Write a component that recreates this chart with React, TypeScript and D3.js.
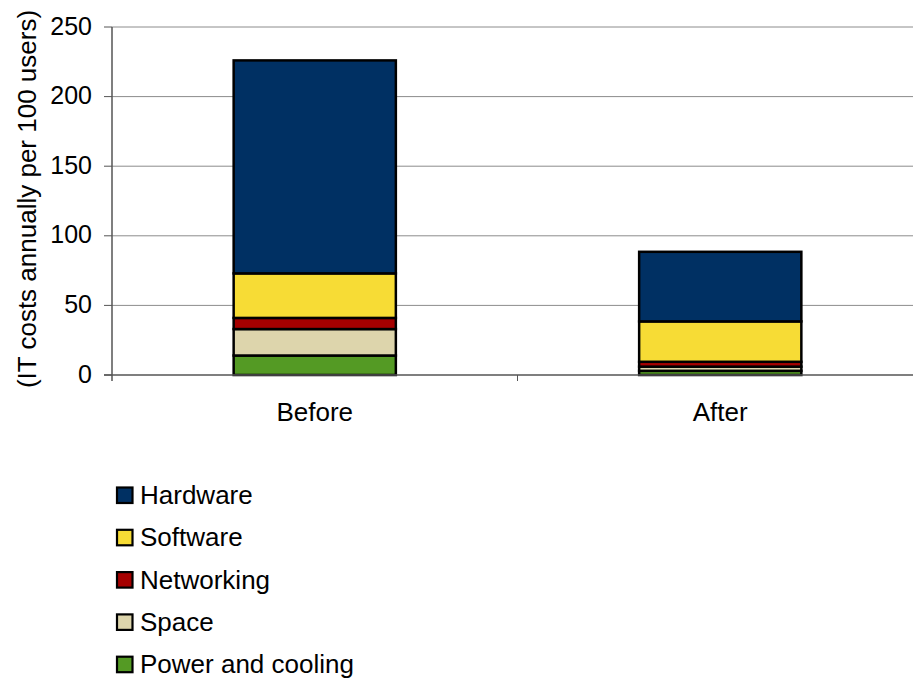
import React from "react";
import * as d3 from "d3";

const categories = ["Before", "After"];
const seriesNames = ["Power and cooling", "Space", "Networking", "Software", "Hardware"];
const powerCooling = [14, 3];
const space = [19, 3];
const networking = [8, 3.5];
const software = [32, 29];
const hardware = [153, 50];
const yTicks = [0, 50, 100, 150, 200, 250];
const legendOrder = ["Hardware", "Software", "Networking", "Space", "Power and cooling"];

const colors: Record<string, string> = {
  Hardware: "#003063",
  Software: "#F7DC35",
  Networking: "#A50000",
  Space: "#DDD5AC",
  "Power and cooling": "#549A24",
};

const W = 913;
const H = 679;
const left = 112;
const right = 923;
const top = 27;
const bottom = 375;
const font = "Liberation Sans, Arial, sans-serif";

export default function App() {
  const rows = categories.map((c, i) => ({
    category: c,
    "Power and cooling": powerCooling[i],
    Space: space[i],
    Networking: networking[i],
    Software: software[i],
    Hardware: hardware[i],
  }));
  const stacked = d3.stack<any>().keys(seriesNames)(rows);

  const x = d3.scaleBand().domain(categories).range([left, right]).paddingInner(0.6).paddingOuter(0.3);
  const y = d3.scaleLinear().domain([0, 250]).range([bottom, top]);
  const step = x.step();

  return (
    <svg
      width={W}
      height={H}
      style={{ position: "absolute", left: 0, top: 0, background: "#fff" }}
      fontFamily={font}
    >
      {/* gridlines */}
      {yTicks.filter((t) => t > 0).map((t) => (
        <line key={t} x1={left} x2={W} y1={y(t)} y2={y(t)} stroke="#8c8c8c" strokeWidth={1} />
      ))}
      {/* stacked bars */}
      {stacked.map((s) =>
        s.map((d, i) => (
          <rect
            key={s.key + i}
            x={x(categories[i])!}
            width={x.bandwidth()}
            y={y(d[1])}
            height={y(d[0]) - y(d[1])}
            fill={colors[s.key]}
            stroke="#000"
            strokeWidth={2.5}
          />
        ))
      )}
      {/* axes */}
      <line x1={left} x2={left} y1={top} y2={bottom + 6} stroke="#555" strokeWidth={1.5} />
      <line x1={left - 8} x2={W} y1={bottom} y2={bottom} stroke="#555" strokeWidth={1.5} />
      {yTicks.map((t) => (
        <g key={t}>
          <line x1={left - 8} x2={left} y1={y(t)} y2={y(t)} stroke="#555" strokeWidth={1} />
          <text x={left - 20} y={y(t)} dy="0.3em" textAnchor="end" fontSize={25} fill="#000">
            {t}
          </text>
        </g>
      ))}
      {categories.map((c, i) => (
        <g key={c}>
          {i > 0 && (
            <line
              x1={x(c)! - (step - x.bandwidth()) / 2}
              x2={x(c)! - (step - x.bandwidth()) / 2}
              y1={bottom}
              y2={bottom + 6}
              stroke="#555"
              strokeWidth={1}
            />
          )}
          <text x={x(c)! + x.bandwidth() / 2} y={421} textAnchor="middle" fontSize={26} fill="#000">
            {c}
          </text>
        </g>
      ))}
      <text
        transform={`translate(36, 199) rotate(-90)`}
        textAnchor="middle"
        fontSize={26}
        fill="#000"
      >
        (IT costs annually per 100 users)
      </text>
      {/* legend */}
      {legendOrder.map((name, i) => {
        const base = 504 + i * 42.3;
        return (
          <g key={name}>
            <rect x={117} y={base - 16.5} width={15.5} height={15.5} fill={colors[name]} stroke="#000" strokeWidth={2.2} />
            <text x={140} y={base} fontSize={26} fill="#000">
              {name}
            </text>
          </g>
        );
      })}
    </svg>
  );
}
